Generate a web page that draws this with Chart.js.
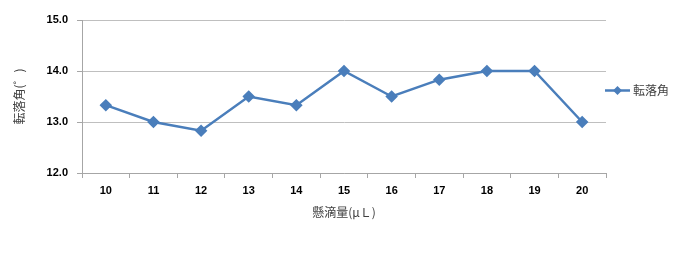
<!DOCTYPE html>
<html><head><meta charset="utf-8">
<script src="https://cdn.jsdelivr.net/npm/chart.js@4/dist/chart.umd.min.js"></script>
<style>html,body{margin:0;padding:0;background:#fff}canvas{display:block}</style>
</head><body>
<canvas id="c" width="692" height="266"></canvas>
<script>
const categories = ["10","11","12","13","14","15","16","17","18","19","20"];
const seriesName = "転落角";
const values = [13.33, 13.0, 12.83, 13.5, 13.33, 14.0, 13.5, 13.83, 14.0, 14.0, 13.0];
const yTicks = [12.0, 13.0, 14.0, 15.0];
const xTitle = "懸滴量(μＬ)";
const yTitle = "転落角(゜)";
const lineColor = "#4a7ebb";
const JP = "'Noto Sans CJK JP', sans-serif";
const NUM = "'Liberation Sans', Arial, sans-serif";

const legendPlugin = {
  id: 'customLegend',
  afterDraw(chart) {
    const ctx = chart.ctx;
    const y = 90.5;
    ctx.save();
    ctx.strokeStyle = lineColor;
    ctx.lineWidth = 2.5;
    ctx.beginPath(); ctx.moveTo(605, y); ctx.lineTo(630, y); ctx.stroke();
    ctx.fillStyle = lineColor;
    ctx.beginPath(); ctx.moveTo(617.5, y-4.5); ctx.lineTo(622, y); ctx.lineTo(617.5, y+4.5); ctx.lineTo(613, y); ctx.closePath(); ctx.fill();
    ctx.fillStyle = "#404040";
    ctx.font = "12px " + JP;
    ctx.textBaseline = "middle";
    ctx.textAlign = "left";
    ctx.fillText(seriesName, 633, y);
    ctx.restore();
  }
};

new Chart(document.getElementById('c'), {
  type: 'line',
  data: {
    labels: categories,
    datasets: [{
      label: seriesName,
      data: values,
      borderColor: lineColor,
      backgroundColor: lineColor,
      borderWidth: 2.5,
      pointStyle: 'rectRot',
      pointRadius: 4.5,
      pointHoverRadius: 4.5,
      tension: 0
    }]
  },
  options: {
    responsive: false,
    animation: false,
    events: [],
    layout: { padding: { left: 12, right: 86, top: 20, bottom: 46 } },
    plugins: { legend: { display: false }, tooltip: { enabled: false } },
    scales: {
      x: {
        offset: true,
        grid: { offset: true, drawOnChartArea: false, drawTicks: true, tickLength: 5, color: "#a6a6a6" },
        border: { color: "#a6a6a6" },
        ticks: { padding: 6, color: "#000", font: { family: NUM, size: 11, weight: 'bold' }, maxRotation: 0 },
        title: { display: true, text: xTitle, color: "#404040", padding: 0, font: { family: JP, size: 12 } },
        afterFit(s) { s.height = 47; }
      },
      y: {
        min: 12, max: 15,
        afterBuildTicks(s) { s.ticks = yTicks.map(v => ({ value: v })); },
        grid: { color: "#bfbfbf", tickLength: 5, tickColor: "#a6a6a6" },
        border: { color: "#a6a6a6" },
        ticks: { padding: 9, color: "#000", font: { family: NUM, size: 11, weight: 'bold' }, callback: v => Number(v).toFixed(1) },
        title: { display: true, text: yTitle, color: "#404040", padding: 0, font: { family: JP, size: 12 } },
        afterFit(s) { s.width = 70; }
      }
    }
  },
  plugins: [legendPlugin]
});
</script>
</body></html>
